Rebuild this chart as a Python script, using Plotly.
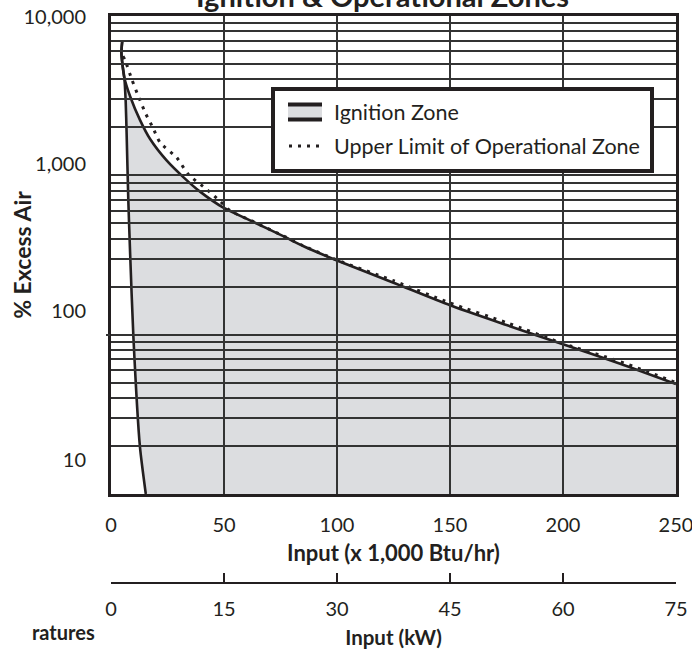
import plotly.graph_objects as go

# ---------------- data ----------------
btu_ticks = [0, 50, 100, 150, 200, 250]
kw_ticks = [0, 15, 30, 45, 60, 75]

y_label_vals = [16.4, 141.6, 1172, 9860]
y_label_text = ["10", "100", "1,000", "10,000"]
y_major_grid = [100]
y_minor_grid = [m * 10 ** e for e in (1, 2, 3) for m in range(1, 10) if not (m == 1 and e == 2)] + [10000]

ign_upper_x = [5.0, 4.6, 5.2, 5.9, 8.4, 12.8, 17.3, 24.6, 32.0, 39.4, 49.7, 61.5, 76.2, 85.0, 100, 125, 150, 175, 200, 225, 250]
ign_upper_y = [7000, 5900, 4800, 4100, 3150, 2230, 1690, 1240, 975, 790, 627, 522, 415, 360, 292, 212, 153, 115, 87, 66, 49]

ign_left_x = [5.0, 4.6, 5.2, 5.9, 6.5, 6.9, 7.65, 8.4, 9.9, 12.8, 15.4]
ign_left_y = [7000, 5900, 4800, 4100, 2900, 1862, 706, 343, 97.5, 19.8, 10]

op_upper_x = [5.3, 6.2, 9.2, 12.4, 15.4, 18.5, 21.7, 29.1, 34.2, 42.3, 48.2, 52.7, 61.5, 76.2, 85.0, 100, 125, 150, 175, 200, 225, 250]
op_upper_y = [5600, 5300, 4000, 3060, 2430, 1995, 1607, 1291, 1014, 817, 689, 600, 524, 417, 362, 294, 218, 158, 119, 88, 68, 50]

Y_FLOOR = 10

FONT = "Lato"
INK = "#231f20"
GRID = "#333333"
FILL = "#dcdde0"

fig = go.Figure()

# ignition zone fill (base subplot)
fill_x = ign_upper_x + [ign_upper_x[-1], ign_left_x[-1]] + ign_left_x[::-1]
fill_y = ign_upper_y + [Y_FLOOR, Y_FLOOR] + ign_left_y[::-1]
fig.add_trace(go.Scatter(x=fill_x, y=fill_y, fill="toself", fillcolor=FILL,
                         mode="lines", line=dict(width=0), hoverinfo="skip",
                         showlegend=False, name="Ignition Zone"))

fig.add_trace(go.Scatter(x=ign_left_x, y=ign_left_y, mode="lines",
                         line=dict(color=INK, width=2.6, shape="spline", smoothing=0.6),
                         showlegend=False, name="Ignition Zone"))
fig.add_trace(go.Scatter(x=ign_upper_x, y=ign_upper_y, mode="lines",
                         line=dict(color=INK, width=2.6, shape="spline", smoothing=0.6),
                         showlegend=False, name="Ignition Zone"))
fig.add_trace(go.Scatter(x=op_upper_x, y=op_upper_y, mode="lines",
                         line=dict(color=INK, width=3, dash="3px,6px", shape="spline", smoothing=0.6),
                         showlegend=False, name="Upper Limit of Operational Zone"))

# grid subplot (drawn above the fill) carrying the kW axis
fig.add_trace(go.Scatter(x=kw_ticks, y=[None] * len(kw_ticks), xaxis="x2", yaxis="y2",
                         mode="lines", hoverinfo="skip", showlegend=False))

L, R, T, B = 111, 16, 16, 79
W, H = 692, 662
plot_h = H - T - B
ydom0 = (H - B - 494) / plot_h

def px_x(p):
    return (p - L) / (W - L - R)

def px_y(p):
    return (H - B - p) / plot_h

fig.update_layout(
    template="none",
    width=W, height=H,
    margin=dict(l=L, r=R, t=T, b=B, pad=0, autoexpand=False),
    paper_bgcolor="white", plot_bgcolor="rgba(0,0,0,0)",
    font=dict(family=FONT, size=20, color=INK),
    showlegend=False,
    xaxis=dict(domain=[0, 1], range=[0, 250], tickmode="array", tickvals=btu_ticks,
               showgrid=False, zeroline=False, ticks="", ticklabelstandoff=11,
               ticklabeloverflow="allow",
               showline=True, linecolor=INK, linewidth=3, mirror=True, automargin=False,
               tickfont=dict(size=20),
               title=dict(text="<b>Input (x 1,000 Btu/hr)</b>", font=dict(size=22), standoff=11)),
    yaxis=dict(domain=[ydom0, 1], type="log", range=[1, 4], tickmode="array",
               tickvals=y_label_vals, ticktext=y_label_text,
               showgrid=False, zeroline=False, ticks="", ticklabelstandoff=18,
               showline=True, linecolor=INK, linewidth=3, mirror=True, automargin=False,
               tickfont=dict(size=20)),
    xaxis2=dict(domain=[0, 1], range=[0, 75], anchor="free", position=0, side="bottom",
                tickmode="array", tickvals=kw_ticks, ticks="inside", ticklen=9, tickwidth=2,
                tickcolor=INK, showline=True, linecolor=INK, linewidth=2, automargin=False,
                showgrid=True, gridcolor=GRID, gridwidth=1.5, zeroline=False,
                ticklabelstandoff=8, ticklabeloverflow="allow", tickfont=dict(size=20),
                title=dict(text="<b>Input (kW)</b>", font=dict(size=20.5), standoff=11)),
    yaxis2=dict(domain=[ydom0, 1], type="log", range=[1, 4], anchor="x2",
                tickmode="array", tickvals=y_major_grid, ticks="outside", ticklen=4,
                tickwidth=1.5, tickcolor=GRID, showticklabels=False, automargin=False,
                showgrid=True, gridcolor=GRID, gridwidth=1.5, zeroline=False, showline=False,
                minor=dict(tickvals=y_minor_grid, showgrid=True, gridcolor=GRID, gridwidth=1.5, ticks=""),
                title=dict(text="<b>% Excess Air</b>", font=dict(size=23), standoff=67)),
)

# legend box
shapes = [
    dict(type="rect", xref="paper", yref="paper", layer="above",
         x0=px_x(273), x1=px_x(652), y0=px_y(171), y1=px_y(89),
         line=dict(color=INK, width=4), fillcolor="white"),
    dict(type="rect", xref="paper", yref="paper", layer="above",
         x0=px_x(288), x1=px_x(322), y0=px_y(121), y1=px_y(103),
         line=dict(width=0), fillcolor=FILL),
    dict(type="line", xref="paper", yref="paper", layer="above",
         x0=px_x(288), x1=px_x(322), y0=px_y(104.5), y1=px_y(104.5),
         line=dict(color=INK, width=4)),
    dict(type="line", xref="paper", yref="paper", layer="above",
         x0=px_x(288), x1=px_x(322), y0=px_y(119.5), y1=px_y(119.5),
         line=dict(color=INK, width=4)),
    dict(type="line", xref="paper", yref="paper", layer="above",
         x0=px_x(289), x1=px_x(320), y0=px_y(146), y1=px_y(146),
         line=dict(color=INK, width=3, dash="3px,6px")),
]
fig.update_layout(shapes=shapes)

fig.add_annotation(text="<b>Ignition & Operational Zones</b>", xref="paper", yref="paper",
                   x=px_x(382), y=px_y(-5), xanchor="center", yanchor="middle",
                   showarrow=False, font=dict(size=29, color=INK))
fig.add_annotation(text="Ignition Zone", xref="paper", yref="paper",
                   x=px_x(332), y=px_y(112), xanchor="left", yanchor="middle",
                   showarrow=False, font=dict(size=21.5, color=INK))
fig.add_annotation(text="Upper Limit of Operational Zone", xref="paper", yref="paper",
                   x=px_x(332), y=px_y(146), xanchor="left", yanchor="middle",
                   showarrow=False, font=dict(size=21.5, color=INK))
fig.add_annotation(text="<b>ratures</b>", xref="paper", yref="paper",
                   x=px_x(97), y=px_y(632), xanchor="right", yanchor="middle",
                   showarrow=False, font=dict(size=20, color=INK))

fig.write_html("out.html", config={"displayModeBar": False},
               post_script="document.body.style.margin='0';")
